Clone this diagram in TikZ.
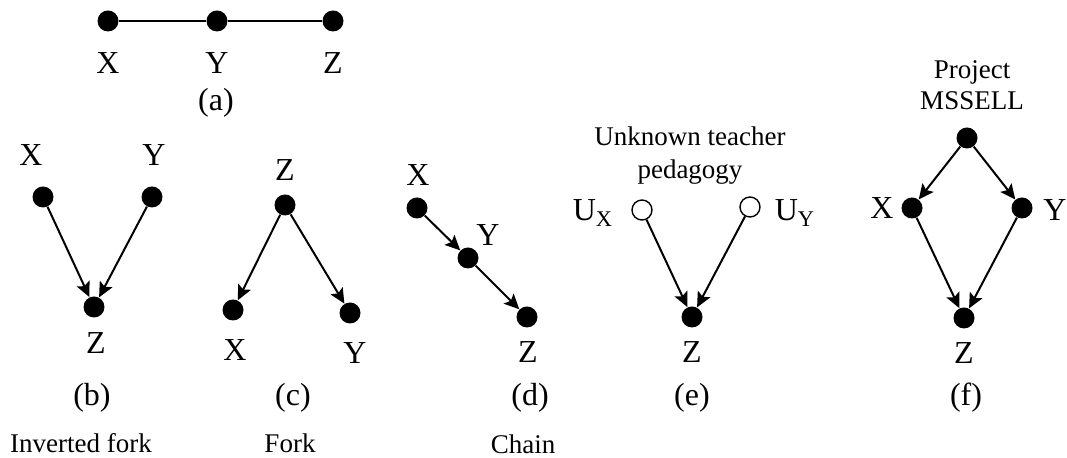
\documentclass[tikz,border=0pt]{standalone}
\usepackage{fontspec}
\setmainfont{Liberation Serif}
\usetikzlibrary{arrows.meta}

\begin{document}
\begin{tikzpicture}[x=0.5pt, y=-0.5pt, >={Stealth[length=7.5pt,width=7pt,inset=1.5pt]},
		dot/.style={circle, fill, inner sep=0pt, minimum size=10.5pt},
		hollow/.style={circle, draw, line width=0.7pt, fill=white, inner sep=0pt, minimum size=10pt},
		lbl/.style={font=\fontsize{16}{18}\selectfont, inner sep=0pt},
		caption/.style={font=\fontsize{13.5}{15.5}\selectfont, align=center, inner sep=0pt},
		edge/.style={->, line width=1pt}]
		\useasboundingbox (0,0) rectangle (1067,458);

		% (a) plain chain of three
		\node[dot] (ax) at (108,21) {};
		\node[dot] (ay) at (217,21) {};
		\node[dot] (az) at (333,21) {};
		\draw[line width=0.7pt] (ax) -- (ay) -- (az);
		\node[lbl] (axl) at (108,63) {X};
		\node[lbl] (ayl) at (217,63) {Y};
		\node[lbl] (azl) at (333,63) {Z};
		\node[lbl] (atag) at (216,103) {(a)};

		% (b) inverted fork
		\node[lbl] (bxl) at (31,155) {X};
		\node[lbl] (byl) at (154,155) {Y};
		\node[dot] (bx) at (43,197) {};
		\node[dot] (by) at (152,197) {};
		\node[dot] (bz) at (94,307) {};
		\node[lbl] (bzl) at (96,343) {Z};
		\draw[edge] (bx) -- (bz);
		\draw[edge] (by) -- (bz);
		\node[lbl] (btag) at (92,398) {(b)};
		\node[caption] (bcap) at (81,443) {Inverted fork};

		% (c) fork
		\node[lbl] (czl) at (285,170) {Z};
		\node[dot] (cz) at (285,205) {};
		\node[dot] (cx) at (233,310) {};
		\node[dot] (cy) at (350,313) {};
		\draw[edge] (cz) -- (cx);
		\draw[edge] (cz) -- (cy);
		\node[lbl] (cxl) at (235,350) {X};
		\node[lbl] (cyl) at (355,353) {Y};
		\node[lbl] (ctag) at (293,398) {(c)};
		\node[caption] (ccap) at (290,443) {Fork};

		% (d) chain
		\node[lbl] (dxl) at (418,175) {X};
		\node[dot] (dx) at (417,208) {};
		\node[lbl] (dyl) at (488,235) {Y};
		\node[dot] (dy) at (468,258) {};
		\node[dot] (dz) at (527,317) {};
		\draw[edge] (dx) -- (dy);
		\draw[edge] (dy) -- (dz);
		\node[lbl] (dzl) at (528,352) {Z};
		\node[lbl] (dtag) at (530,398) {(d)};
		\node[caption] (dcap) at (523,444) {Chain};

		% (e) unknown common cause
		\node[caption] (ecap) at (690,156) {Unknown teacher\\[1pt]pedagogy};
		\node[hollow] (eux) at (642,210) {};
		\node[hollow] (euy) at (750,207) {};
		\node[lbl] (euxl) at (593,213) {U\textsubscript{X}};
		\node[lbl] (euyl) at (795,213) {U\textsubscript{Y}};
		\node[dot] (ez) at (692,317) {};
		\draw[edge] (eux) -- (ez);
		\draw[edge] (euy) -- (ez);
		\node[lbl] (ezl) at (692,352) {Z};
		\node[lbl] (etag) at (692,398) {(e)};

		% (f) project as common cause
		\node[caption] (fcap) at (972,85) {Project\\MSSELL};
		\node[dot] (fp) at (967,138) {};
		\node[dot] (fx) at (912,208) {};
		\node[dot] (fy) at (1022,208) {};
		\node[dot] (fz) at (964,318) {};
		\node[lbl] (fxl) at (882,208) {X};
		\node[lbl] (fyl) at (1055,210) {Y};
		\draw[edge] (fp) -- (fx);
		\draw[edge] (fp) -- (fy);
		\draw[edge] (fx) -- (fz);
		\draw[edge] (fy) -- (fz);
		\node[lbl] (fzl) at (964,353) {Z};
		\node[lbl] (ftag) at (966,398) {(f)};
	\end{tikzpicture}
\end{document}
